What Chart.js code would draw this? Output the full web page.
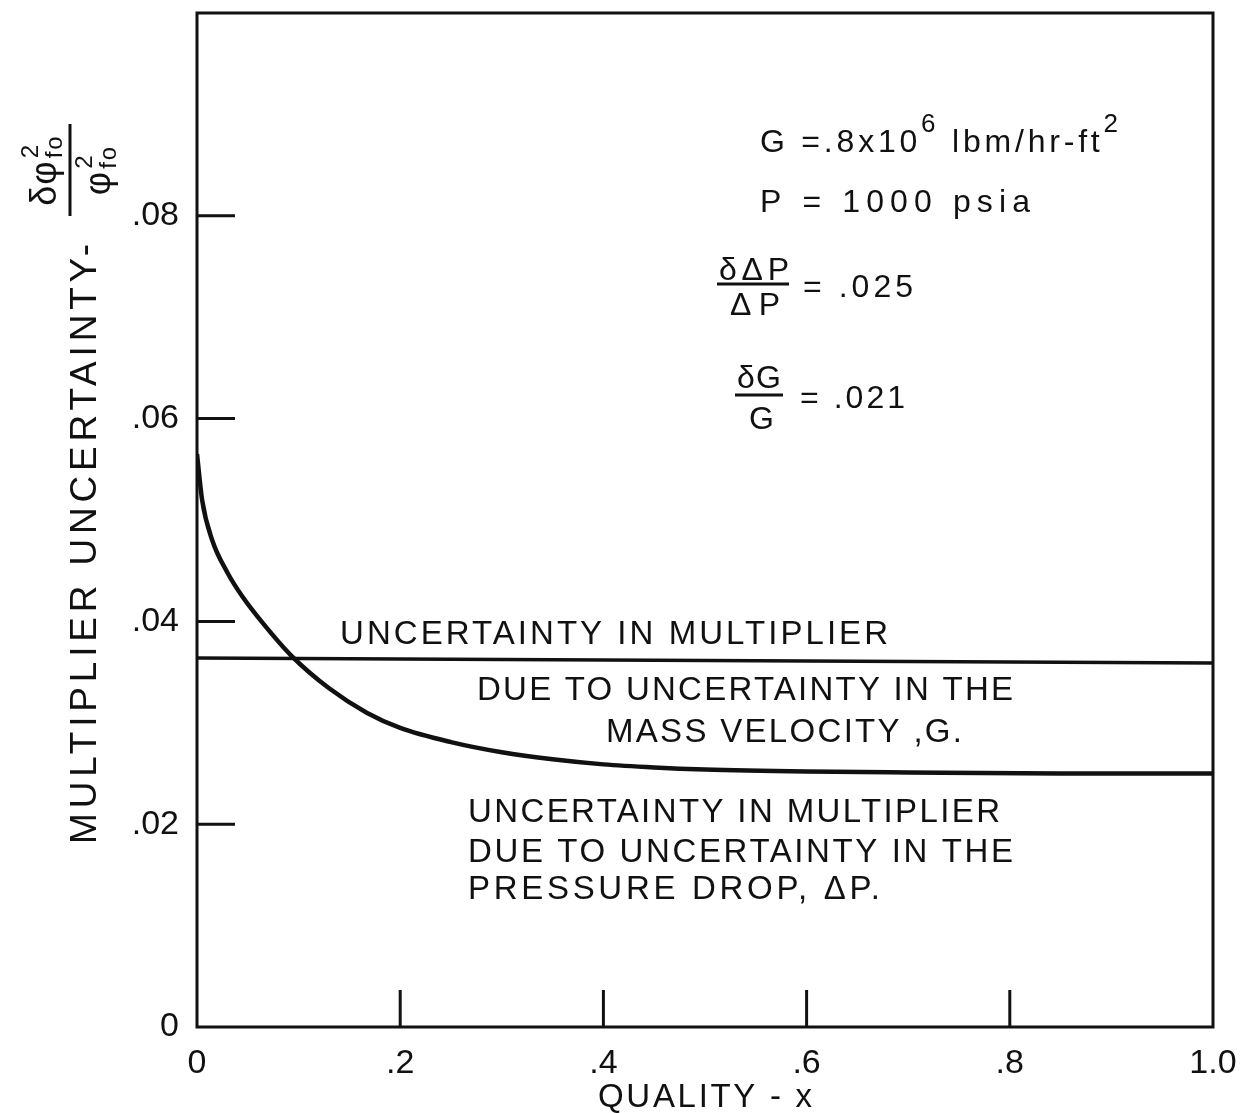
<!DOCTYPE html>
<html>
<head>
<meta charset="utf-8">
<script src="https://cdn.jsdelivr.net/npm/chart.js@4.4.1/dist/chart.umd.min.js"></script>
<style>
  html, body { margin: 0; padding: 0; background: #fff; }
</style>
</head>
<body>
<canvas id="grafico" width="1247" height="1113"></canvas>
<script>
// Incerteza no multiplicador bifásico em função do título (x)

// Curva: incerteza devida à queda de pressão (ΔP)
const qualidade = [0, 0.005, 0.015, 0.03, 0.045, 0.065, 0.093, 0.13, 0.167, 0.2, 0.25, 0.3, 0.35, 0.4, 0.45, 0.5, 0.6, 0.7, 0.85, 1.0];
const incertezaDP = [0.0565, 0.052, 0.048, 0.0448, 0.0424, 0.0398, 0.0366, 0.0334, 0.031, 0.0295, 0.0281, 0.0271, 0.0264, 0.0259, 0.0256, 0.0254, 0.0252, 0.0251, 0.025, 0.025];

// Reta: incerteza devida à velocidade mássica (G)
const qualidadeG = [0, 1.0];
const incertezaG = [0.0364, 0.0359];

// Escalas
const xTickValues = [0, 0.2, 0.4, 0.6, 0.8, 1.0];
const xTickLabels = ['0', '.2', '.4', '.6', '.8', '1.0'];
const yTickValues = [0, 0.02, 0.04, 0.06, 0.08];
const yTickLabels = ['0', '.02', '.04', '.06', '.08'];

const fonte = '"Liberation Sans", "DejaVu Sans", Arial, sans-serif';
const preto = '#111';

// escreve texto com espaçamento ajustado para ocupar a largura dada
function escreve(ctx, txt, x, y, tam, larg) {
    ctx.font = tam + 'px ' + fonte;
    ctx.letterSpacing = '0px';
    let esp = 0;
    if (larg) {
        const w = ctx.measureText(txt).width;
        esp = (larg - w) / (txt.length - 1);
    }
    ctx.letterSpacing = esp + 'px';
    ctx.textAlign = 'left';
    ctx.fillText(txt, x, y);
    ctx.letterSpacing = '0px';
}

function largura(ctx, txt, tam, esp) {
    ctx.font = tam + 'px ' + fonte;
    ctx.letterSpacing = (esp || 0) + 'px';
    const w = ctx.measureText(txt).width;
    ctx.letterSpacing = '0px';
    return w;
}

function linha(ctx, x1, y1, x2, y2, lw) {
    ctx.lineWidth = lw;
    ctx.beginPath();
    ctx.moveTo(x1, y1);
    ctx.lineTo(x2, y2);
    ctx.stroke();
}

// trechos de texto em sequência (com expoentes), esticados até a largura dada
function trechos(ctx, partes, x, y, larg) {
    let nat = 0, n = 0;
    partes.forEach(p => { nat += largura(ctx, p[0], p[1], 0); n += p[0].length; });
    const esp = (larg - nat) / (n - 1);
    partes.forEach(p => {
        ctx.font = p[1] + 'px ' + fonte;
        ctx.letterSpacing = esp + 'px';
        ctx.textAlign = 'left';
        ctx.fillText(p[0], x, y + p[2]);
        x += ctx.measureText(p[0]).width;
    });
    ctx.letterSpacing = '0px';
}

// φ² com índice "fo" empilhado
function phiFo(ctx, prefixo, cx, base) {
    const wPre = largura(ctx, prefixo, 36, 1);
    const wSup = largura(ctx, '2', 24, 0);
    const wSub = largura(ctx, 'fo', 24, 2);
    const total = wPre + 2 + Math.max(wSup, wSub);
    const x0 = cx - total / 2;
    ctx.font = '36px ' + fonte;
    ctx.letterSpacing = '1px';
    ctx.fillText(prefixo, x0, base);
    ctx.font = '24px ' + fonte;
    ctx.letterSpacing = '0px';
    ctx.fillText('2', x0 + wPre + 2, base - 18);
    ctx.letterSpacing = '2px';
    ctx.fillText('fo', x0 + wPre + 2, base + 6);
    ctx.letterSpacing = '0px';
}

const anotacoes = {
    id: 'anotacoes',
    beforeDraw(chart) {
        const ctx = chart.ctx;
        ctx.save();
        ctx.fillStyle = '#fff';
        ctx.fillRect(0, 0, chart.width, chart.height);
        ctx.restore();
    },
    afterDraw(chart) {
        const ctx = chart.ctx;
        const a = chart.chartArea;
        const sx = chart.scales.x;
        const sy = chart.scales.y;
        ctx.save();
        ctx.strokeStyle = preto;
        ctx.fillStyle = preto;
        ctx.textBaseline = 'alphabetic';

        // moldura
        ctx.lineWidth = 3;
        ctx.strokeRect(a.left, a.top, a.right - a.left, a.bottom - a.top);

        // marcas para dentro
        yTickValues.forEach(v => {
            if (v <= 0) return;
            const py = sy.getPixelForValue(v);
            linha(ctx, a.left, py, a.left + 38, py, 3);
        });
        xTickValues.forEach(v => {
            if (v <= 0 || v >= 1) return;
            const px = sx.getPixelForValue(v);
            linha(ctx, px, a.bottom, px, a.bottom - 37, 3);
        });

        // título do eixo x
        escreve(ctx, 'QUALITY - x', 598, 1107, 33, 214);

        // título do eixo y
        ctx.save();
        ctx.translate(96, 844);
        ctx.rotate(-Math.PI / 2);
        escreve(ctx, 'MULTIPLIER UNCERTAINTY-', 0, 0, 37, 600);
        ctx.restore();

        ctx.save();
        ctx.translate(70, 170);
        ctx.rotate(-Math.PI / 2);
        linha(ctx, -46, 0, 46, 0, 3);
        phiFo(ctx, 'δφ', 0, -14);
        phiFo(ctx, 'φ', 0, 40);
        ctx.restore();

        // condições do ensaio
        trechos(ctx, [['G =.8x10', 32, 0], ['6', 26, -20], [' lbm/hr-ft', 32, 0], ['2', 26, -20]], 760, 152, 358);
        escreve(ctx, 'P = 1000 psia', 760, 212, 32, 270);

        // δΔP/ΔP
        escreve(ctx, 'δΔP', 719, 280, 32, 70);
        linha(ctx, 717, 284, 789, 284, 3);
        escreve(ctx, 'ΔP', 730, 315, 32, 50);
        escreve(ctx, '= .025', 803, 297, 32, 110);

        // δG/G
        escreve(ctx, 'δG', 737, 388, 32, 44);
        linha(ctx, 735, 395, 783, 395, 3);
        escreve(ctx, 'G', 749, 429, 32);
        escreve(ctx, '= .021', 800, 408, 32, 105);

        // legendas das curvas
        escreve(ctx, 'UNCERTAINTY IN MULTIPLIER', 340, 644, 33, 548);
        escreve(ctx, 'DUE TO UNCERTAINTY IN THE', 477, 700, 33, 536);
        escreve(ctx, 'MASS VELOCITY ,G.', 606, 742, 33, 356);
        escreve(ctx, 'UNCERTAINTY IN MULTIPLIER', 468, 822, 33, 532);
        escreve(ctx, 'DUE TO UNCERTAINTY IN THE', 468, 862, 33, 545);
        escreve(ctx, 'PRESSURE DROP, ΔP.', 468, 899, 33, 412);

        ctx.restore();
    }
};

function criarGrafico() {
    const ctx = document.getElementById('grafico');

    new Chart(ctx, {
        type: 'line',
        data: {
            datasets: [{
                label: 'ΔP',
                data: qualidade.map((q, i) => ({ x: q, y: incertezaDP[i] })),
                borderColor: preto,
                borderWidth: 4.5,
                pointRadius: 0,
                cubicInterpolationMode: 'monotone',
                fill: false
            }, {
                label: 'G',
                data: qualidadeG.map((q, i) => ({ x: q, y: incertezaG[i] })),
                borderColor: preto,
                borderWidth: 3.5,
                pointRadius: 0,
                fill: false
            }]
        },
        options: {
            responsive: false,
            animation: false,
            layout: {
                padding: { top: 13, right: 34, left: 0, bottom: 0 }
            },
            plugins: {
                legend: { display: false },
                tooltip: { enabled: false }
            },
            scales: {
                x: {
                    type: 'linear',
                    min: 0,
                    max: 1,
                    afterBuildTicks: s => { s.ticks = xTickValues.map(v => ({ value: v })); },
                    afterFit: s => { s.height = 86; s.paddingLeft = 0; s.paddingRight = 0; },
                    border: { display: false },
                    grid: { display: false },
                    ticks: {
                        autoSkip: false,
                        maxRotation: 0,
                        padding: 8,
                        color: preto,
                        font: { family: fonte, size: 34 },
                        callback: (v, i) => xTickLabels[i]
                    }
                },
                y: {
                    type: 'linear',
                    min: 0,
                    max: 0.1,
                    afterBuildTicks: s => { s.ticks = yTickValues.map(v => ({ value: v })); },
                    afterFit: s => { s.width = 197; s.paddingTop = 0; s.paddingBottom = 0; },
                    border: { display: false },
                    grid: { display: false },
                    ticks: {
                        autoSkip: false,
                        padding: 10,
                        color: preto,
                        font: { family: fonte, size: 34 },
                        callback: (v, i) => yTickLabels[i]
                    }
                }
            }
        },
        plugins: [anotacoes]
    });
}

document.addEventListener('DOMContentLoaded', criarGrafico);
</script>
</body>
</html>
